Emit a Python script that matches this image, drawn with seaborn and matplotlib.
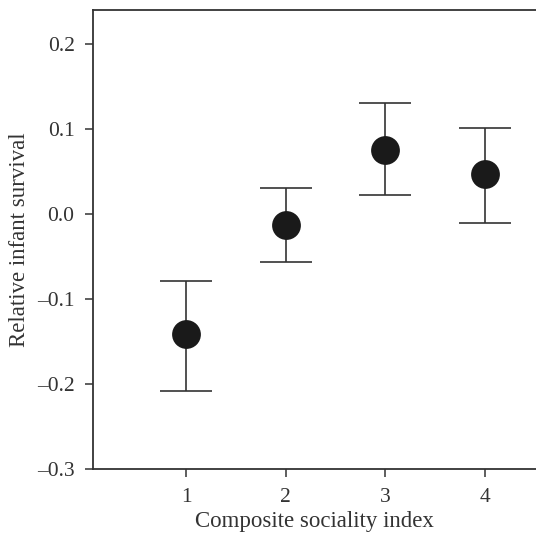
import numpy as np
import pandas as pd
import seaborn as sns
import matplotlib.pyplot as plt

# values
sociality = [1, 2, 3, 4]
survival = [-0.141, -0.013, 0.076, 0.047]
upper = [-0.079, 0.031, 0.131, 0.102]
lower = [-0.208, -0.056, 0.023, -0.010]

df = pd.DataFrame({"sociality": sociality, "survival": survival,
                   "upper": upper, "lower": lower})

sns.set_style("ticks")
plt.rcParams['font.family'] = ['Liberation Serif', 'DejaVu Serif']
plt.rcParams['axes.unicode_minus'] = True

fig = plt.figure(figsize=(5.36, 5.35), dpi=100)
ax = fig.add_axes([0.174, 0.1234, 0.826, 0.8579])

# error bars
yerr = np.array([df["survival"] - df["lower"], df["upper"] - df["survival"]])
ax.errorbar(df["sociality"], df["survival"], yerr=yerr, fmt="none",
            ecolor="#333333", elinewidth=1.2, capsize=19, capthick=1.2, zorder=2)

sns.scatterplot(data=df, x="sociality", y="survival", ax=ax, s=430,
                color="#1a1a1a", edgecolor="#1a1a1a", linewidth=0, zorder=3)

ax.set_xlim(0.07, 4.51)
ax.set_ylim(-0.3, 0.2404)
ax.set_xticks(sociality)
ax.set_yticks([-0.3, -0.2, -0.1, 0.0, 0.1, 0.2])
ax.set_yticklabels(["\u20130.3", "\u20130.2", "\u20130.1", "0.0", "0.1", "0.2"])

for s in ["left", "top", "bottom"]:
    ax.spines[s].set_color("#333333")
    ax.spines[s].set_linewidth(1.3)
ax.spines["right"].set_visible(False)

ax.tick_params(axis="both", direction="out", length=5.5, width=1.1,
               color="#333333", labelsize=15.5, labelcolor="#333333", pad=8)

ax.set_xlabel("Composite sociality index", fontsize=16.5, color="#333333", labelpad=3)
ax.set_ylabel("Relative infant survival", fontsize=16.5, color="#333333", labelpad=5)

fig.savefig("out.png", dpi=100)
